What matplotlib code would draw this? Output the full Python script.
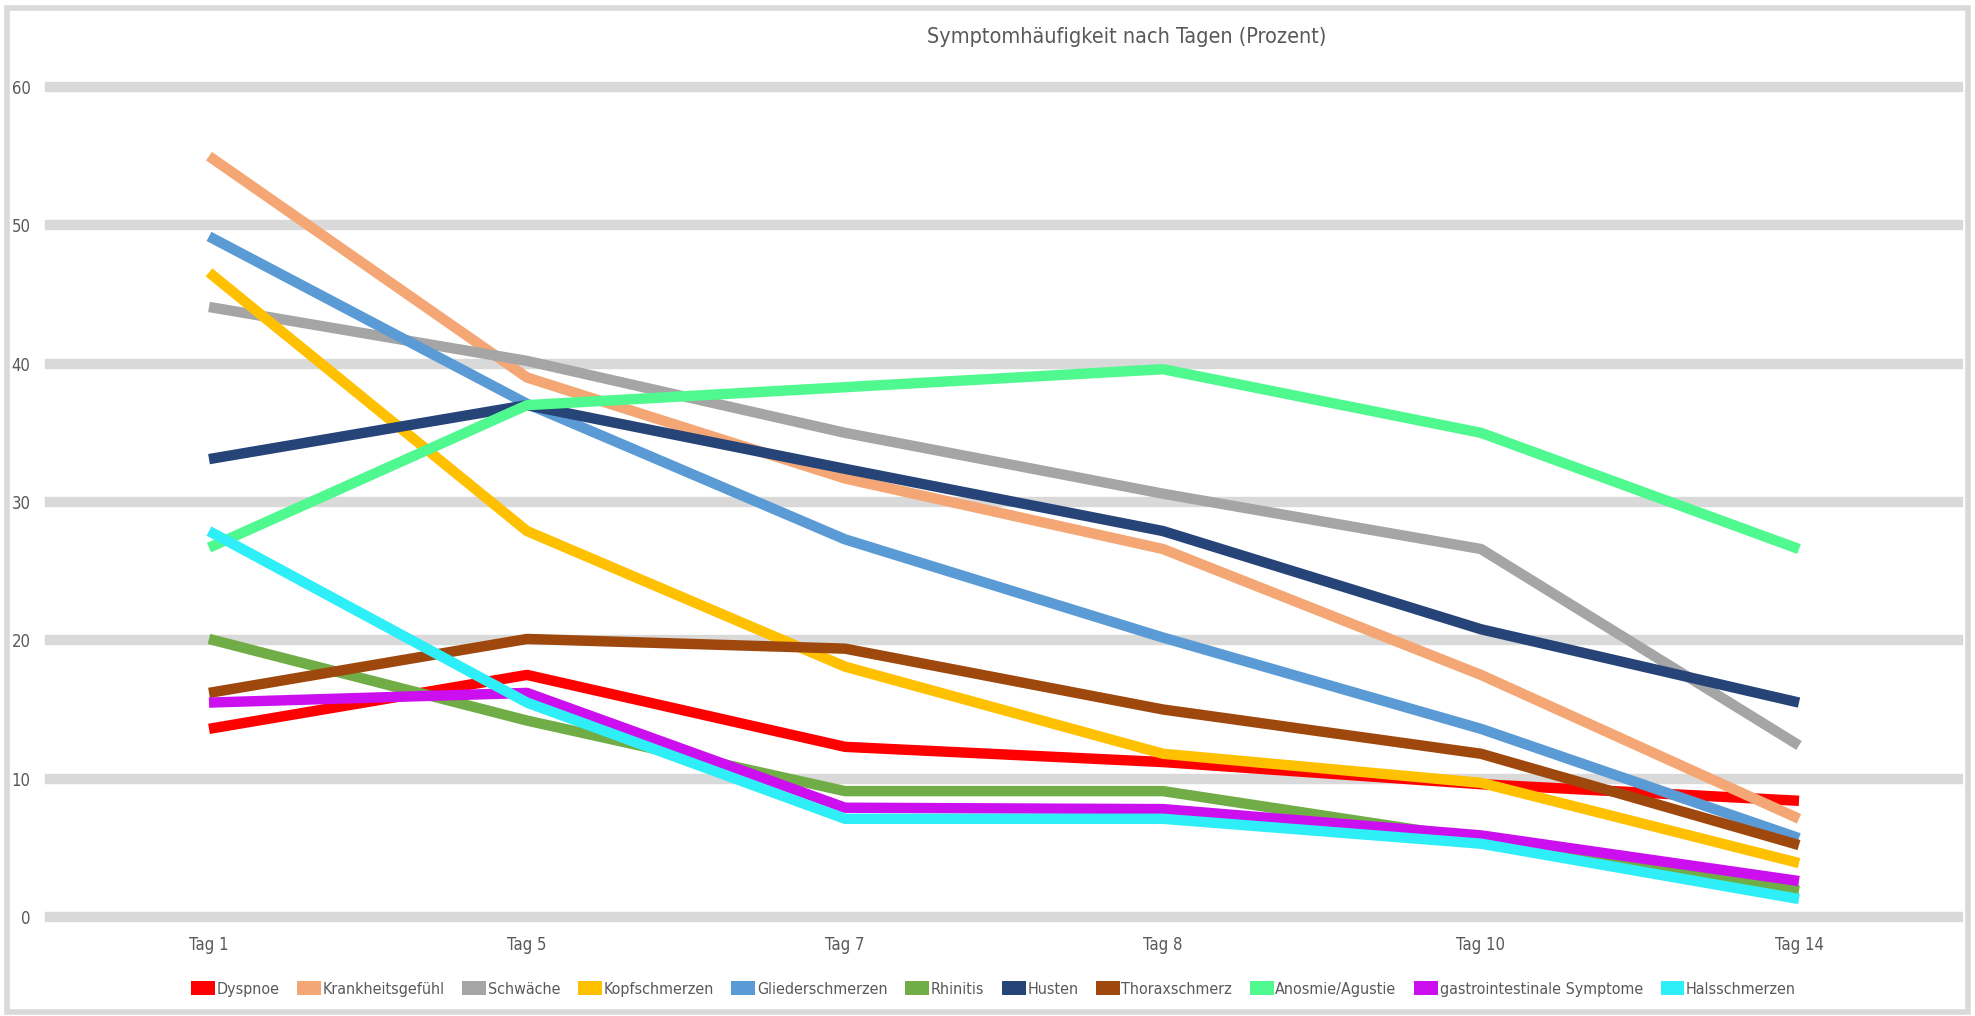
import matplotlib
matplotlib.use('Agg')
import matplotlib.pyplot as plt
from matplotlib.patches import Rectangle, Patch

plt.rcParams['font.family'] = ['DejaVu Sans']
plt.rcParams['font.stretch'] = 'condensed'

days = ['Tag 1', 'Tag 5', 'Tag 7', 'Tag 8', 'Tag 10', 'Tag 14']

dyspnoe = [13.6, 17.5, 12.3, 11.2, 9.6, 8.4]
krankheitsgefuehl = [55.0, 39.0, 31.7, 26.6, 17.5, 7.1]
schwaeche = [44.1, 40.2, 35.0, 30.6, 26.6, 12.4]
kopfschmerzen = [46.6, 27.9, 18.1, 11.8, 9.7, 3.9]
gliederschmerzen = [49.2, 37.1, 27.3, 20.2, 13.6, 5.7]
rhinitis = [20.1, 14.2, 9.1, 9.1, 5.6, 1.9]
husten = [33.1, 37.0, 32.4, 27.9, 20.8, 15.5]
thoraxschmerz = [16.2, 20.1, 19.4, 15.0, 11.8, 5.2]
anosmie = [26.7, 37.0, 38.3, 39.6, 35.0, 26.6]
gastro = [15.5, 16.2, 7.9, 7.8, 5.9, 2.6]
halsschmerzen = [27.9, 15.5, 7.1, 7.1, 5.3, 1.3]

series = [
    ('Dyspnoe', dyspnoe, '#FF0000'),
    ('Krankheitsgefühl', krankheitsgefuehl, '#F4A774'),
    ('Schwäche', schwaeche, '#A5A5A5'),
    ('Kopfschmerzen', kopfschmerzen, '#FFC000'),
    ('Gliederschmerzen', gliederschmerzen, '#5B9BD5'),
    ('Rhinitis', rhinitis, '#70AD47'),
    ('Husten', husten, '#264478'),
    ('Thoraxschmerz', thoraxschmerz, '#9E480E'),
    ('Anosmie/Agustie', anosmie, '#50F98F'),
    ('gastrointestinale Symptome', gastro, '#CC0FEF'),
    ('Halsschmerzen', halsschmerzen, '#2EEFF7'),
]

text_col = '#595959'

fig = plt.figure(figsize=(19.75, 10.16), dpi=100)
ax = fig.add_axes([50 / 1975, 1 - 917 / 1016, (1958 - 50) / 1975, (917 - 87) / 1016])

x = list(range(len(days)))
for name, vals, col in series:
    ax.plot(x, vals, color=col, linewidth=7.5, solid_capstyle='butt',
            solid_joinstyle='round', label=name, clip_on=False)

ax.set_xlim(-0.5, 5.5)
ax.set_ylim(0, 60)
ax.set_yticks(range(0, 61, 10))
ax.set_xticks(x)
ax.set_xticklabels(days)
ax.grid(axis='y', color='#D9D9D9', linewidth=7.5)
for gl in ax.get_ygridlines():
    gl.set_clip_on(False)
ax.set_axisbelow(True)
for s in ax.spines.values():
    s.set_visible(False)
ax.tick_params(axis='y', length=0, pad=14, labelsize=12, labelcolor=text_col)
ax.tick_params(axis='x', length=0, pad=14, labelsize=12, labelcolor=text_col)

fig.text(1127 / 1975, 1 - 37 / 1016, 'Symptomhäufigkeit nach Tagen (Prozent)',
         ha='center', va='center', fontsize=15.5, color=text_col)

handles = [Patch(facecolor=col, edgecolor='none') for _, _, col in series]
labels = [name for name, _, _ in series]
fig.legend(handles, labels, loc='center', bbox_to_anchor=(0.503, 1 - 989 / 1016),
           ncol=len(series), frameon=False, fontsize=11.5, labelcolor=text_col,
           handlelength=1.5, handleheight=0.9, handletextpad=0.1, columnspacing=1.1)

# grey outer frame
fig.patches.append(Rectangle((7 / 1975, 4 / 1016), 1 - 14 / 1975, 1 - 12 / 1016,
                             transform=fig.transFigure, fill=False,
                             edgecolor='#D9D9D9', linewidth=4))

fig.savefig('out.png', dpi=100)
